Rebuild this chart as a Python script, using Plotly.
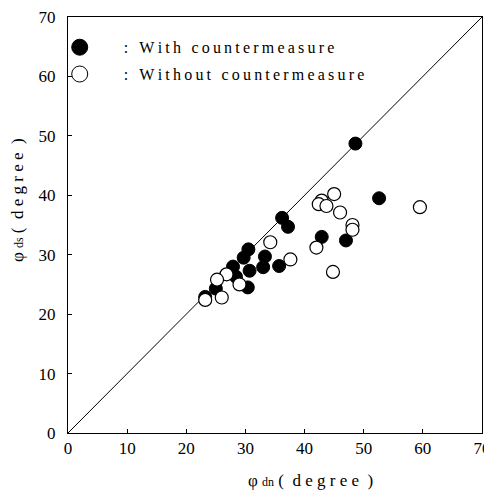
import plotly.graph_objects as go

# With countermeasure (filled)
with_dn = [48.6, 52.6, 47.0, 42.9, 37.2, 36.2, 35.7, 33.3, 33.0, 30.5, 30.7, 29.7, 30.4, 27.9, 28.4, 25.0, 23.2]
with_ds = [48.7, 39.5, 32.4, 33.0, 34.7, 36.2, 28.1, 29.7, 27.9, 30.9, 27.3, 29.5, 24.5, 28.0, 26.3, 24.3, 22.9]

# Without countermeasure (open)
without_dn = [59.5, 45.0, 42.9, 42.4, 43.7, 46.0, 48.1, 48.1, 42.0, 44.8, 37.6, 34.2, 29.0, 26.8, 25.2, 26.0, 23.2]
without_ds = [38.0, 40.2, 39.1, 38.5, 38.2, 37.1, 35.0, 34.2, 31.2, 27.1, 29.2, 32.1, 25.0, 26.7, 25.8, 22.8, 22.4]

ticks = [0, 10, 20, 30, 40, 50, 60, 70]
legend_labels = ["With countermeasure", "Without countermeasure"]

FONT = "Liberation Serif"
NB = "\u00a0"


def spaced(s, sep):
    return sep.join(list(s))


def legend_name(s):
    return NB * 6 + ":" + NB * 2 + "\u2009" + spaced(s, "\u2009")


def axis_title(sub):
    return ("φ <span style='font-size:12px'>" + sub + "</span>" + NB + "(" + NB * 2
            + spaced("degree", "\u2005") + NB * 2 + ")")


fig = go.Figure()
fig.add_trace(go.Scatter(
    x=with_dn, y=with_ds, mode="markers", showlegend=False,
    marker=dict(size=13, color="black", line=dict(color="black", width=1)),
))
fig.add_trace(go.Scatter(
    x=without_dn, y=without_ds, mode="markers", showlegend=False,
    marker=dict(size=13, color="white", line=dict(color="black", width=1.2)),
))
# legend entries
fig.add_trace(go.Scatter(
    x=[None], y=[None], mode="markers", name=legend_name(legend_labels[0]), legendgroup="a",
    marker=dict(size=16, color="black", line=dict(color="black", width=1)),
))
fig.add_trace(go.Scatter(
    x=[None], y=[None], mode="markers", name=legend_name(legend_labels[1]), legendgroup="b",
    marker=dict(size=16, color="white", line=dict(color="black", width=1)),
))

fig.add_shape(type="line", x0=0, y0=0, x1=70, y1=70, xref="x", yref="y",
              line=dict(color="black", width=1), layer="below")

axis_common = dict(
    range=[0, 70], tickvals=ticks, ticktext=[str(t) for t in ticks],
    showgrid=False, zeroline=False, showline=True, linecolor="black", linewidth=1,
    mirror=True, ticks="inside", ticklen=4, tickcolor="black", automargin=False,
    ticklabeloverflow="allow",
    tickfont=dict(family=FONT, size=17, color="black"),
)

# page body has an 8px margin, so the figure is drawn 8px in from the window corner
fig.update_layout(
    width=484, height=483,
    margin=dict(l=60, r=10, t=9, b=58),
    plot_bgcolor="white", paper_bgcolor="white",
    font=dict(family=FONT, color="black"),
    xaxis=dict(axis_common),
    yaxis=dict(axis_common, ticklabelstandoff=8),
    legend=dict(x=-0.02, y=0.968, xanchor="left", yanchor="top",
                bgcolor="rgba(0,0,0,0)", font=dict(family=FONT, size=16),
                itemwidth=30, tracegroupgap=3),
    showlegend=True,
    annotations=[
        dict(text=axis_title("dn"), xref="paper", yref="paper", x=0.585, y=-0.113,
             xanchor="center", yanchor="middle", showarrow=False,
             font=dict(family=FONT, size=17, color="black")),
        dict(text=axis_title("ds"), xref="paper", yref="paper", x=-0.123, y=0.56,
             xanchor="center", yanchor="middle", showarrow=False, textangle=-90,
             font=dict(family=FONT, size=17, color="black")),
    ],
)
fig.write_html("out.html")
